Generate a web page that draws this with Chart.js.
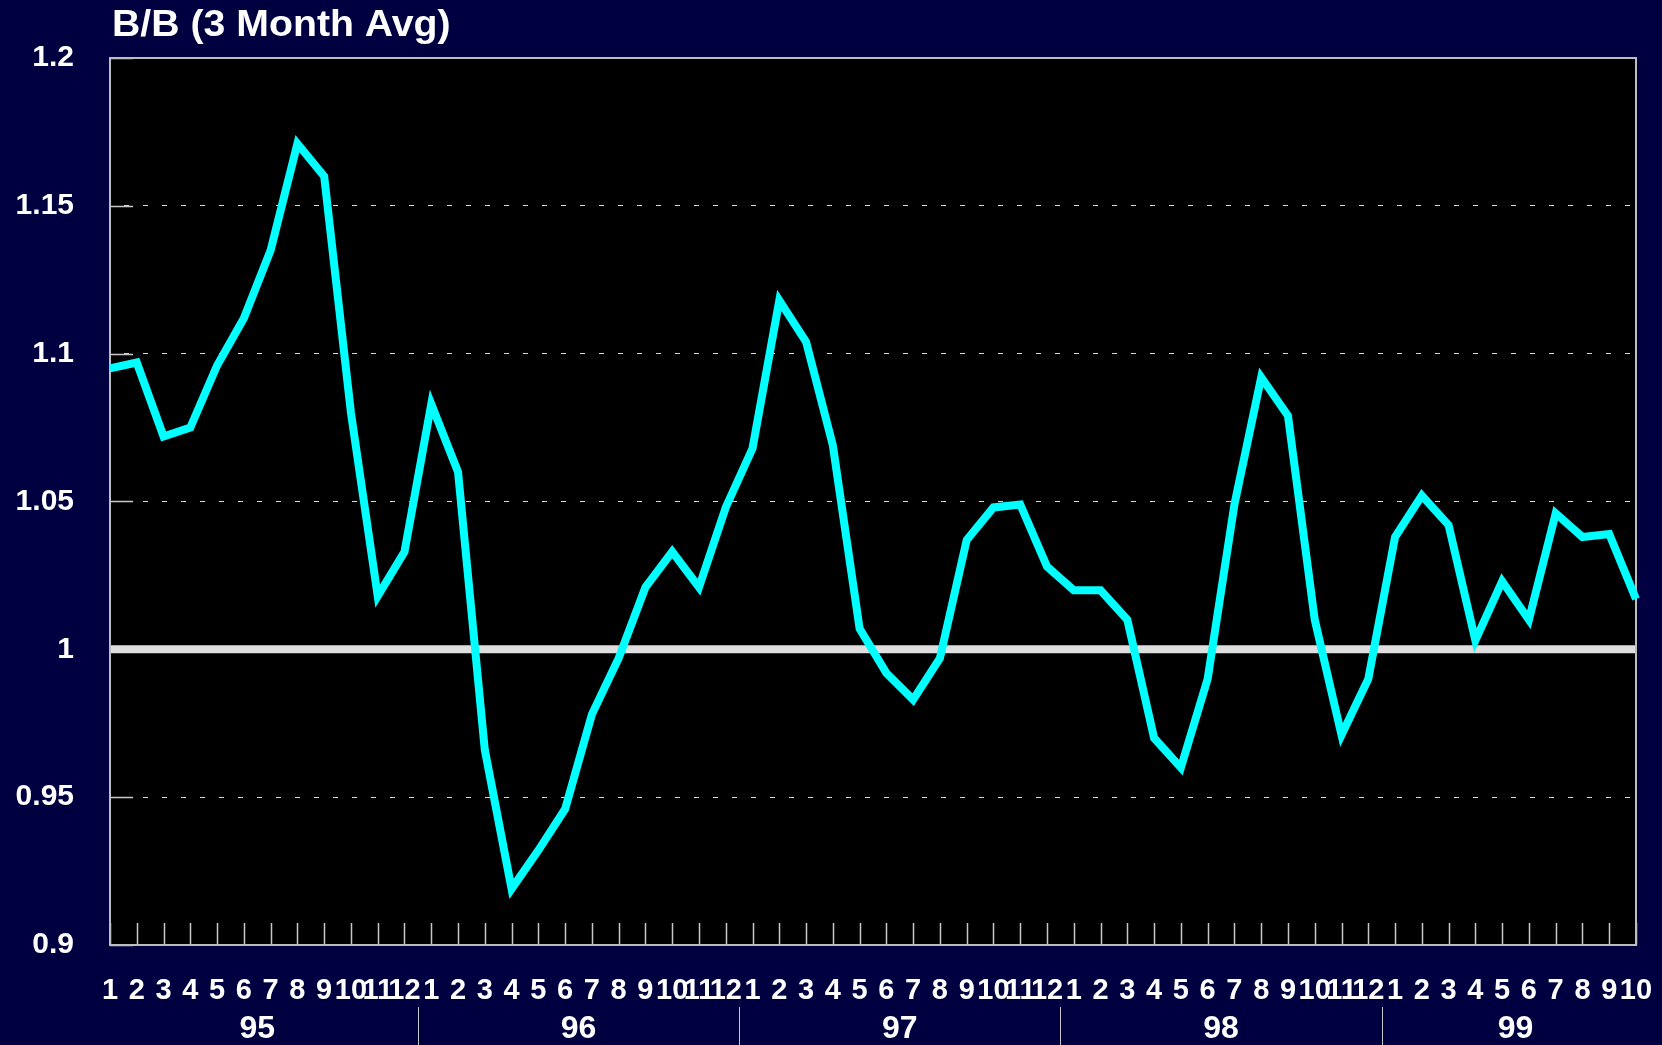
<!DOCTYPE html>
<html>
<head>
<meta charset="utf-8">
<script src="https://cdn.jsdelivr.net/npm/chart.js@4.4.1/dist/chart.umd.min.js"></script>
<style>
  html, body { margin: 0; padding: 0; background: #000040; overflow: hidden; }
</style>
</head>
<body>
<canvas id="myChart" width="1662" height="1045"></canvas>
<script>
// data (3 month average B/B ratio)
const title = 'B/B (3 Month Avg)';
const years = ['95', '96', '97', '98', '99'];
const monthTicks = ['1', '2', '3', '4', '5', '6', '7', '8', '9', '10', '11', '12'];
const monthsPerYear = [12, 12, 12, 12, 10];

const bb95 = [1.095, 1.097, 1.072, 1.075, 1.096, 1.112, 1.135, 1.171, 1.160, 1.080, 1.018, 1.033];
const bb96 = [1.083, 1.060, 0.966, 0.919, 0.932, 0.946, 0.978, 0.997, 1.021, 1.033, 1.021, 1.048];
const bb97 = [1.068, 1.118, 1.104, 1.069, 1.007, 0.992, 0.983, 0.997, 1.037, 1.048, 1.049, 1.028];
const bb98 = [1.020, 1.020, 1.010, 0.970, 0.960, 0.990, 1.049, 1.092, 1.079, 1.010, 0.971, 0.990];
const bb99 = [1.038, 1.052, 1.042, 1.003, 1.023, 1.010, 1.046, 1.038, 1.039, 1.017];

const yTicks = [0.9, 0.95, 1, 1.05, 1.1, 1.15, 1.2];
const refLevel = 1;

// build labels and the series
const labels = [];
monthsPerYear.forEach(n => { for (let m = 0; m < n; m++) labels.push(monthTicks[m]); });
const values = [].concat(bb95, bb96, bb97, bb98, bb99);

const sans = "'Liberation Sans', Arial, sans-serif";

// background, inner ticks, line at 1, frame, title and the two label rows
const decor = {
    id: 'decor',
    beforeDraw(chart) {
        const { ctx, chartArea: a } = chart;
        ctx.save();
        ctx.fillStyle = '#000040';
        ctx.fillRect(0, 0, chart.width, chart.height);
        ctx.fillStyle = '#000000';
        ctx.fillRect(a.left, a.top, a.right - a.left, a.bottom - a.top);
        ctx.restore();
    },
    beforeDatasetsDraw(chart) {
        const { ctx, chartArea: a, scales: { x, y } } = chart;
        ctx.save();
        ctx.strokeStyle = '#c8c8c8';
        ctx.lineWidth = 1.5;
        ctx.beginPath();
        labels.forEach((l, i) => {
            const px = Math.round(x.getPixelForValue(i)) + 0.5;
            ctx.moveTo(px, a.bottom);
            ctx.lineTo(px, a.bottom - 22);
        });
        yTicks.forEach(v => {
            const py = Math.round(y.getPixelForValue(v)) + 0.5;
            ctx.moveTo(a.left, py);
            ctx.lineTo(a.left + 23, py);
        });
        ctx.stroke();

        const p1 = y.getPixelForValue(refLevel);
        ctx.strokeStyle = '#dedede';
        ctx.lineWidth = 8;
        ctx.beginPath();
        ctx.moveTo(a.left, p1);
        ctx.lineTo(a.right, p1);
        ctx.stroke();

        ctx.strokeStyle = '#bdbdbd';
        ctx.lineWidth = 2;
        ctx.strokeRect(a.left, a.top, a.right - a.left, a.bottom - a.top);
        ctx.restore();
    },
    afterDraw(chart) {
        const { ctx, chartArea: a, scales: { x } } = chart;
        ctx.save();
        ctx.fillStyle = '#ffffff';

        // title, a touch wider than plain Liberation Sans
        ctx.save();
        ctx.translate(a.left + 2, 36);
        ctx.scale(1.09, 1);
        ctx.font = 'bold 36px ' + sans;
        ctx.textAlign = 'left';
        ctx.textBaseline = 'alphabetic';
        ctx.fillText(title, 0, 0);
        ctx.restore();

        // month row
        ctx.font = 'bold 29px ' + sans;
        ctx.textAlign = 'center';
        ctx.textBaseline = 'alphabetic';
        labels.forEach((l, i) => {
            ctx.fillText(l, x.getPixelForValue(i), a.bottom + 54);
        });

        // year row and separators
        ctx.font = 'bold 32px ' + sans;
        ctx.strokeStyle = '#c8c8c8';
        ctx.lineWidth = 1;
        let start = 0;
        years.forEach((yr, k) => {
            const end = start + monthsPerYear[k] - 1;
            const cx = (x.getPixelForValue(start) + x.getPixelForValue(end)) / 2;
            ctx.fillText(yr, cx, a.bottom + 93);
            if (k < years.length - 1) {
                const sx = Math.round((x.getPixelForValue(end) + x.getPixelForValue(end + 1)) / 2) + 0.5;
                ctx.beginPath();
                ctx.moveTo(sx, a.bottom + 62);
                ctx.lineTo(sx, chart.height);
                ctx.stroke();
            }
            start = end + 1;
        });
        ctx.restore();
    }
};

const ctx = document.getElementById('myChart').getContext('2d');

const myChart = new Chart(ctx, {
    type: 'line',
    data: {
        labels: labels,
        datasets: [{
            label: 'B/B',
            data: values,
            borderColor: '#00ffff',
            borderWidth: 8,
            borderJoinStyle: 'miter',
            pointRadius: 0,
            tension: 0,
            fill: false
        }]
    },
    options: {
        responsive: false,
        animation: false,
        layout: { padding: { left: 0, right: 26, top: 58, bottom: 0 } },
        plugins: {
            legend: { display: false },
            tooltip: { enabled: false },
            title: { display: false }
        },
        scales: {
            x: {
                offset: false,
                grid: { display: false, drawTicks: false },
                border: { display: false },
                afterFit(scale) { scale.height = 100; },
                ticks: { display: false, autoSkip: false }
            },
            y: {
                min: 0.9,
                max: 1.2,
                afterFit(scale) { scale.width = 110; },
                afterBuildTicks(scale) { scale.ticks = yTicks.map(v => ({ value: v })); },
                grid: {
                    drawTicks: false,
                    color: 'rgba(255,255,255,0.85)',
                    lineWidth: 1
                },
                border: { display: false, dash: [5, 14], dashOffset: 5 },
                ticks: {
                    padding: 36,
                    color: '#ffffff',
                    font: { family: sans, size: 30, weight: 'bold' },
                    callback: v => String(Number(v.toFixed(2)))
                }
            }
        }
    },
    plugins: [decor]
});
</script>
</body>
</html>
